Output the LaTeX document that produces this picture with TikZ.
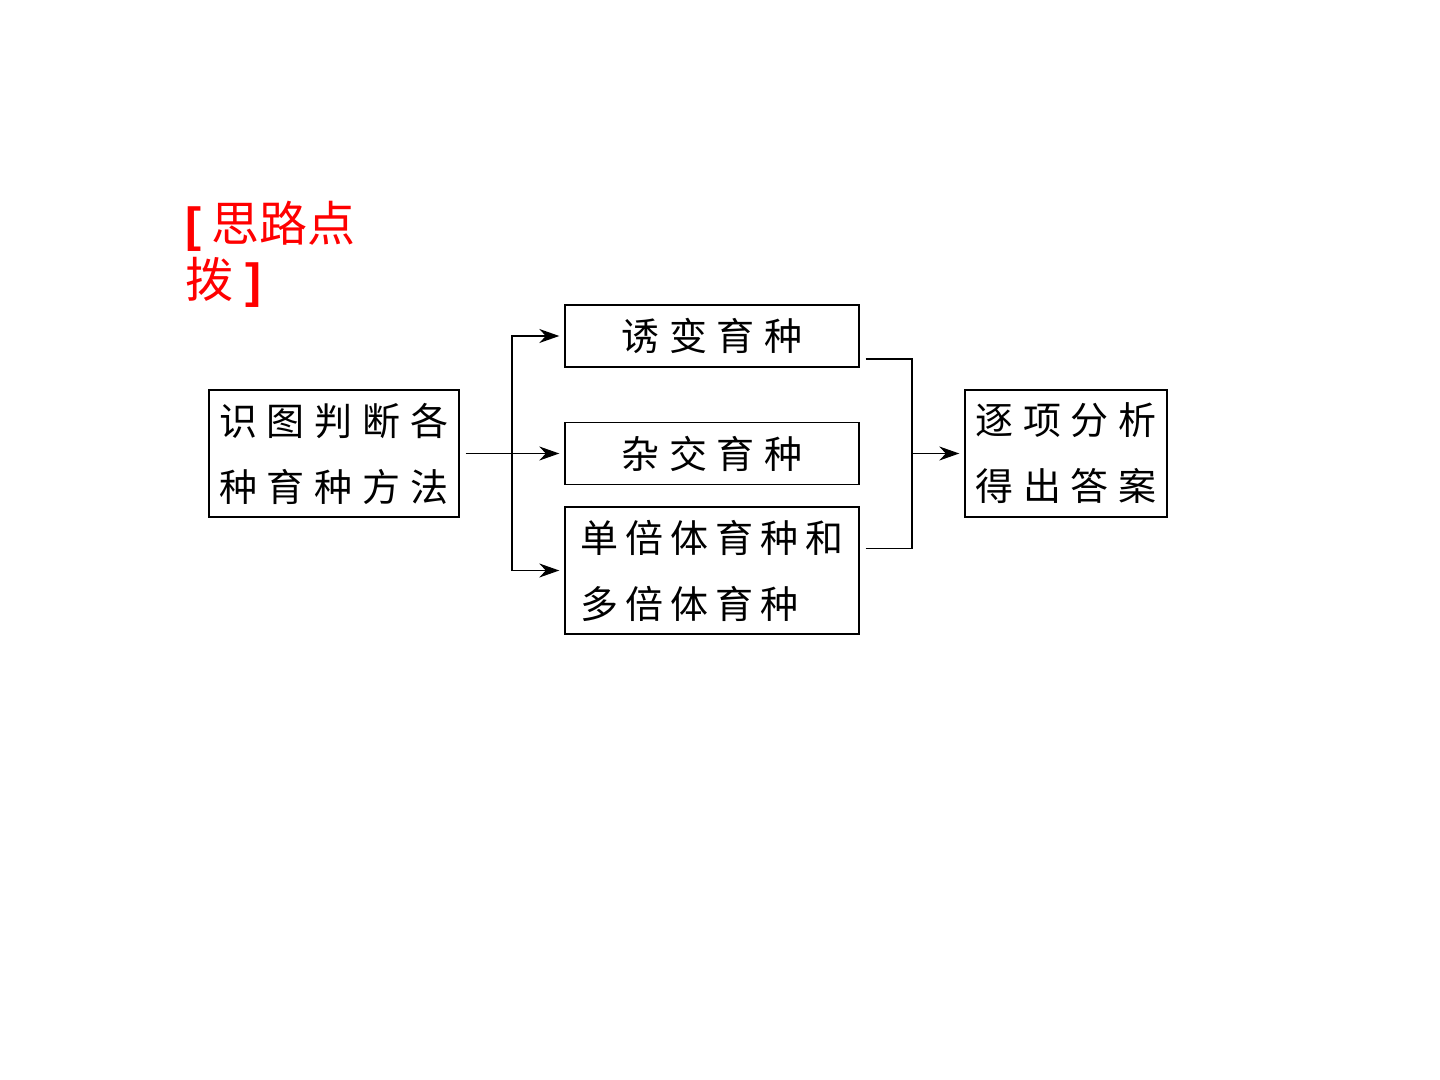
\documentclass[tikz,border=0pt]{standalone}
\usepackage{fontspec}
\newfontfamily\cjk{Noto Sans CJK SC}
\newfontfamily\latsans{Liberation Sans}
\usetikzlibrary{arrows.meta}
\newcommand\gapA{\hspace{5pt}}
\newcommand\gapB{\hspace{3.5pt}}
\newcommand\gapC{\hspace{4.8pt}}
\begin{document}
\begin{tikzpicture}[x=0.5pt,y=-0.5pt]
\useasboundingbox[fill=white] (0,0) rectangle (1440,1080);
\tikzset{
  box/.style={draw, line width=0.7pt, inner sep=0pt, align=center,
    font=\cjk\fontsize{19}{33}\selectfont},
  conn/.style={line width=0.65pt},
  arr/.style={conn, -{Stealth[length=10pt,width=7pt]}},
  tiptext/.style={anchor=base west, inner sep=0pt, text=red,
    font=\cjk\fontsize{24}{28}\selectfont}
}
% red heading
\node[tiptext] (tipA) at (185,242) {{\latsans\bfseries[}\hspace{5pt}思路点};
\node[tiptext] (tipB) at (185,298) {拨\hspace{6pt}{\latsans\bfseries]}};

% boxes
\node[box, minimum width=125pt, minimum height=63.5pt] (src) at (334,453.5)
  {识\gapA 图\gapA 判\gapA 断\gapA 各\\种\gapA 育\gapA 种\gapA 方\gapA 法};
\node[box, minimum width=147pt, minimum height=31pt] (mut) at (712,336)
  {诱\gapA 变\gapA 育\gapA 种};
\node[box, minimum width=147pt, minimum height=31pt] (hyb) at (712,453.5)
  {杂\gapA 交\gapA 育\gapA 种};
\node[box, minimum width=147pt, minimum height=63.5pt, align=left] (ploid) at (712,570.5)
  {单\gapB 倍\gapB 体\gapB 育\gapB 种\gapB 和\\多\gapB 倍\gapB 体\gapB 育\gapB 种};
\node[box, minimum width=101pt, minimum height=63.5pt] (res) at (1066,453.5)
  {逐\gapC 项\gapC 分\gapC 析\\得\gapC 出\gapC 答\gapC 案};

% connectors
\coordinate (j1) at (512,453.5);
\coordinate (j2) at (912,453.5);
\draw[conn] ([xshift=3pt]src.east) -- (j1);
\draw[arr] (j1) |- ([xshift=-2.5pt]mut.west);
\draw[arr] (j1) -- ([xshift=-2.5pt]hyb.west);
\draw[arr] (j1) |- ([xshift=-2.5pt]ploid.west);
\draw[conn] ([xshift=3pt,yshift=-11.5pt]mut.east) -| (j2);
\draw[conn] ([xshift=3pt,yshift=11pt]ploid.east) -| (j2);
\draw[arr] (j2) -- ([xshift=-2.5pt]res.west);
\end{tikzpicture}
\end{document}
